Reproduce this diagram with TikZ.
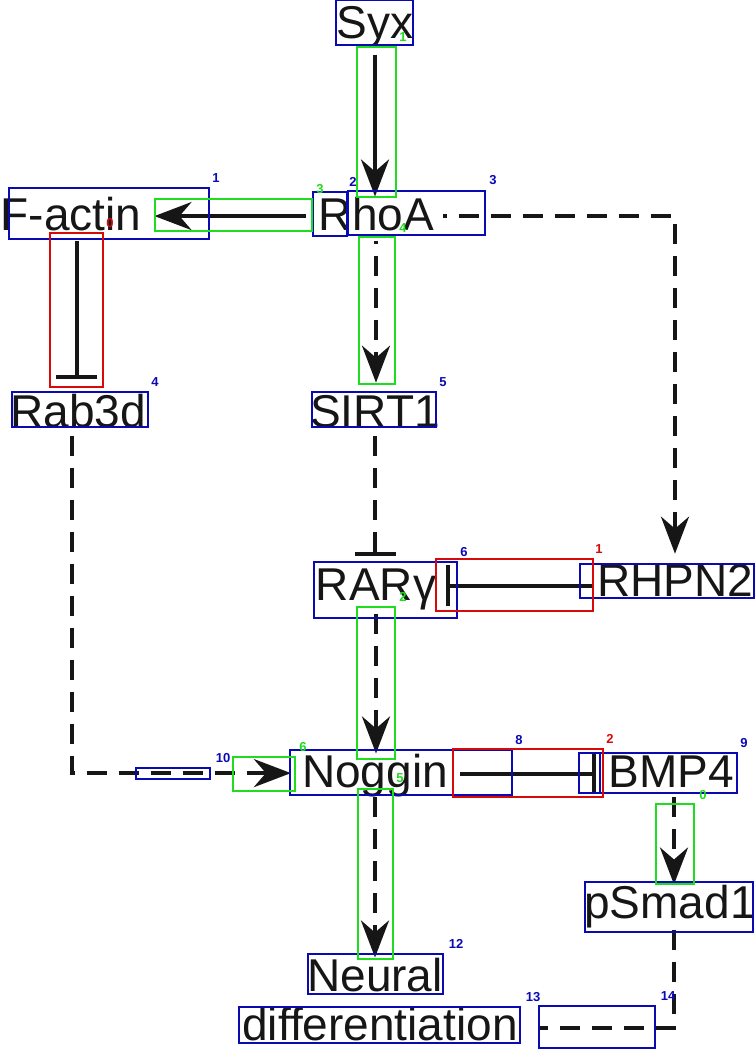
\documentclass[tikz,border=0pt]{standalone}
\usepackage{fontspec}
\setmainfont{Liberation Sans}
\usetikzlibrary{arrows.meta,calc}
\definecolor{ink}{HTML}{161616}
\definecolor{bx}{RGB}{10,10,180}
\definecolor{gx}{RGB}{30,220,30}
\definecolor{rx}{RGB}{215,10,10}
\begin{document}
\begin{tikzpicture}[x=1pt,y=-1pt,
 txt/.style={font=\fontsize{46}{46}\selectfont, inner sep=0pt, text=ink, anchor=base},
 con/.style={line width=4pt, draw=ink},
 dsh/.style={con, dash pattern=on 20pt off 12pt},
 act/.style={-{Stealth[length=37pt,width=28pt,inset=12pt]}},
 inh/.style={-{Bar[width=41pt]}},
 bb/.style={draw=bx, line width=2.6pt},
 gb/.style={draw=gx, line width=2.6pt},
 rb/.style={draw=rx, line width=2.6pt},
 num/.style={font=\fontsize{13}{13}\selectfont\bfseries, inner sep=0pt},
]
\fill[white] (0,0) rectangle (755,1050);
\useasboundingbox (0,0) rectangle (755,1050);

% entities
\node[txt] (syx) at (375,38) {Syx};
\node[txt] (factin) at (71,230) {F-actin};
\node[txt] (rhoa) at (376.5,230) {RhoA};
\node[txt] (rab3d) at (78,427) {Rab3d};
\node[txt] (sirt1) at (375,427) {SIRT1};
\node[txt] (rarg) at (376,600) {RARγ};
\node[txt] (rhpn2) at (675,596) {RHPN2};
\node[txt] (noggin) at (375,787) {Noggin};
\node[txt] (bmp4) at (671.5,787) {BMP4};
\node[txt] (psmad) at (670,918) {pSmad1};
\node[txt] (neural) at (375,991) {Neural};
\node[txt] (diff) at (380,1040) {differentiation};

% connectors
\draw[con,act,shorten <=7pt] (syx.south) -- (syx.south |- rhoa.north);
\draw[con,act,shorten <=13pt,shorten >=13pt] ($(rhoa.west)+(0,2.5)$) -- ($(rhoa.west -| factin.east)+(0,2.5)$);
\draw[con,inh,shorten <=10pt,shorten >=14pt] ($(rab3d.north |- factin.south)+(-1.5,0)$) -- ($(rab3d.north)+(-1.5,0)$);
\draw[dsh,act,dash phase=17pt,shorten <=10pt,shorten >=12pt] ($(sirt1.north |- rhoa.south)+(1,0)$) -- ($(sirt1.north)+(1,0)$);
\draw[dsh,act,dash phase=16pt,shorten <=9pt,shorten >=10pt] ($(rhoa.east)+(0,2.5)$) -| (rhpn2.north);
\draw[dsh,inh,shorten <=8pt,shorten >=12pt] (sirt1.south) -- (sirt1.south |- rarg.north);
\draw[con,inh,shorten <=5pt,shorten >=10pt] ($(rarg.east -| rhpn2.west)+(0,-3)$) -- ($(rarg.east)+(0,-3)$);
\draw[dsh,act,shorten <=4pt] (rarg.south) -- (rarg.south |- noggin.north);
\draw[dsh,act,shorten <=8pt,shorten >=11pt] ($(rab3d.south)+(-6,0)$) |- ($(noggin.west)+(0,-2)$);
\draw[con,inh,shorten <=12pt,shorten >=13pt] ($(noggin.east)+(0,-1.5)$) -- ($(noggin.east -| bmp4.west)+(0,-1.5)$);
\draw[dsh,act,shorten <=10pt] ($(bmp4.south)+(2.5,0)$) -- ($(bmp4.south |- psmad.north)+(2.5,0)$);
\draw[dsh,act] (noggin.south) -- (noggin.south |- neural.north);
\draw[dsh,shorten <=2pt,shorten >=22pt] ($(psmad.south)+(4,0)$) |- ($(diff.east)+(0,4)$);

% annotation boxes: blue
\draw[bb] (336,0) rectangle (413,45);
\draw[bb] (9,188) rectangle (209,239);
\draw[bb] (313,192) rectangle (347,236);
\draw[bb] (348,191) rectangle (485,235);
\draw[bb] (12,392) rectangle (148,427);
\draw[bb] (312,392) rectangle (436,427);
\draw[bb] (314,562) rectangle (457,618);
\draw[bb] (580,564) rectangle (754,598);
\draw[bb] (290,750) rectangle (512,795);
\draw[bb] (579,753) rectangle (737,793);
\draw[bb] (600,753) -- (600,793);
\draw[bb] (136,768) rectangle (210,779);
\draw[bb] (585,882) rectangle (753,932);
\draw[bb] (308,954) rectangle (443,994);
\draw[bb] (239,1007) rectangle (520,1043);
\draw[bb] (539,1006) rectangle (655,1048);
% green
\draw[gb] (357,47) rectangle (396,197);
\draw[gb] (155,199) rectangle (312,231);
\draw[gb] (359,237) rectangle (395,384);
\draw[gb] (357,607) rectangle (395,759);
\draw[gb] (233,757) rectangle (295,791);
\draw[gb] (358,789) rectangle (393,959);
\draw[gb] (656,804) rectangle (694,884);
% red
\draw[rb] (50,233) rectangle (103,387);
\draw[rb] (436,559) rectangle (593,611);
\draw[rb] (453,749) rectangle (603,797);

% annotation numbers
\begin{scope}[every node/.style={num}]
\node[text=bx] at (216,178) {1};
\node[text=bx] at (353,182) {2};
\node[text=bx] at (493,180) {3};
\node[text=bx] at (155,382) {4};
\node[text=bx] at (443,382) {5};
\node[text=bx] at (464,552) {6};
\node[text=bx] at (519,740) {8};
\node[text=bx] at (744,743) {9};
\node[text=bx] at (223,758) {10};
\node[text=bx] at (456,944) {12};
\node[text=bx] at (533,997) {13};
\node[text=bx] at (668,996) {14};
\node[text=gx] at (403,37) {1};
\node[text=gx] at (403,597) {2};
\node[text=gx] at (320,189) {3};
\node[text=gx] at (403,228) {4};
\node[text=gx] at (400,778) {5};
\node[text=gx] at (303,747) {6};
\node[text=gx] at (703,795) {0};
\node[text=rx] at (110,223) {0};
\node[text=rx] at (599,549) {1};
\node[text=rx] at (610,739) {2};
\end{scope}
\end{tikzpicture}
\end{document}
